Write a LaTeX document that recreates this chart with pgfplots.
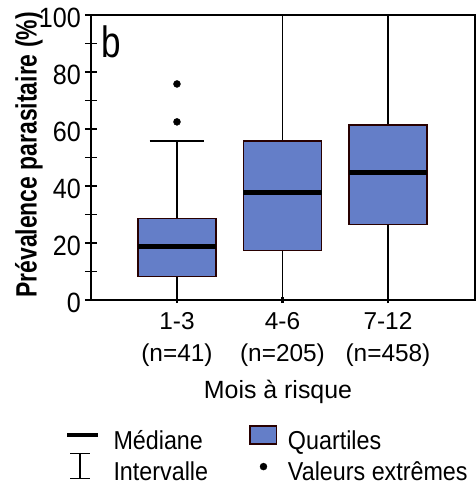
\documentclass[border=0pt]{standalone}
\usepackage{fontspec}
\setmainfont{Liberation Sans}
\newfontfamily\narrowfont{Liberation Sans}[FakeStretch=0.8]
\newfontfamily\tickfont{Liberation Sans}[FakeStretch=0.9]
\newfontfamily\legfont{Liberation Sans}[FakeStretch=0.9]
\newfontfamily\ylabfont{Liberation Sans Bold}[FakeStretch=0.78]
\usepackage{pgfplots}
\pgfplotsset{compat=1.18}
\usepgfplotslibrary{statistics}
\definecolor{boxfill}{RGB}{100,126,200}
\definecolor{boxedge}{RGB}{40,0,0}
\begin{document}
\begin{tikzpicture}
\begin{axis}[
  scale only axis, width=384bp, height=285bp,
  xmin=0.185, xmax=3.825, ymin=0, ymax=100,
  axis line style={line width=1.6bp, black},
  xtick={1,2,3},
  xticklabels={{1-3\\(n=41)},{4-6\\(n=205)},{7-12\\(n=458)}},
  xticklabel style={align=center, font=\fontsize{24.5}{31.7}\selectfont, yshift=-3bp},
  ytick={0,20,40,60,80,100},
  minor ytick={10,30,50,70,90},
  yticklabel style={font=\tickfont\fontsize{28}{32}\selectfont, inner sep=0pt, anchor=east, yshift=-3bp, xshift=-4bp},
  /pgf/number format/assume math mode=true,
  tick align=center,
  major tick length=12bp, minor tick length=12bp,
  ytick style={black, line width=1.5bp},
  minor y tick style={black, line width=1.5bp},
  xtick style={black, line width=2.5bp, /pgfplots/major tick length=6bp},
  xtick pos=bottom, ytick pos=left,
  xlabel={Mois à risque},
  xlabel style={font=\fontsize{25}{30}\selectfont, at={(axis description cs:0.487,-0.347)}, anchor=base},
  ylabel={Prévalence parasitaire (\%)},
  ylabel style={font=\ylabfont\fontsize{29.5}{32}\selectfont, inner sep=0pt, at={(axis description cs:-0.162,0.509)}, anchor=center},
  boxplot/draw direction=y,
  boxplot/every box/.style={draw=boxedge, fill=boxfill, line width=1.3bp},
  boxplot/every whisker/.style={black, line width=1.5bp},
  boxplot/every median/.style={black, line width=4.5bp},
  legend columns=2,
  legend cell align=left,
  legend style={draw=none, fill=none, inner sep=0pt, outer sep=0pt,
    at={(-0.0677,-0.4263)}, anchor=north west,
    font=\legfont\fontsize{26}{32}\selectfont,
    nodes={inner sep=0pt, text height=20bp, text depth=1bp},
    row sep=3bp,
    /tikz/every odd column/.append style={column sep=10.5bp},
    /tikz/every even column/.append style={column sep=41bp}},
]
\addplot[forget plot, boxplot prepared={draw position=1, median=18.8, upper quartile=28.6, lower quartile=8.2, upper whisker=55.8, lower whisker=0, box extend=0.74, whisker extend=0.52},
  mark=*, mark size=3.5bp, mark options={fill=black, draw=black}]
  table[row sep=\\, y index=0] {data\\ 75.8\\ 62.5\\};
\addplot[forget plot, boxplot prepared={draw position=2, median=37.7, upper quartile=55.8, lower quartile=17.4, upper whisker=100, lower whisker=0, box extend=0.74, whisker extend=0.52}]
  coordinates {};
\addplot[forget plot, boxplot prepared={draw position=3, median=44.8, upper quartile=61.4, lower quartile=26.4, upper whisker=100, lower whisker=0, box extend=0.74, whisker extend=0.52}]
  coordinates {};
\node[anchor=base west, inner sep=0pt, font=\narrowfont\fontsize{44}{48}\selectfont] at (rel axis cs:0.026,0.8526) {b};
\addlegendimage{legend image code/.code={\path[draw=none, fill=none] (0bp,-10.5bp) rectangle (36bp,18bp); \draw[black, line width=4bp] (0bp,5bp) -- (30.7bp,5bp);}}
\addlegendentry{Médiane}
\addlegendimage{legend image code/.code={\path[draw=none, fill=none] (0bp,-10.5bp) rectangle (28.4bp,18bp); \draw[draw=boxedge, fill=boxfill, line width=1.5bp] (0.75bp,-4.7bp) rectangle (27.65bp,13.3bp);}}
\addlegendentry{Quartiles}
\addlegendimage{legend image code/.code={\path[draw=none, fill=none] (0bp,-10.5bp) rectangle (36bp,18bp); \draw[black, line width=1.2bp] (13bp,-7.3bp) -- (13bp,17.2bp) (3bp,-7.3bp) -- (23bp,-7.3bp) (3bp,17.2bp) -- (23bp,17.2bp);}}
\addlegendentry{Intervalle}
\addlegendimage{legend image code/.code={\path[draw=none, fill=none] (0bp,-10.5bp) rectangle (28.4bp,18bp); \fill[black] (14.4bp,4.4bp) circle (3.5bp);}}
\addlegendentry{Valeurs extrêmes}
\end{axis}
\pgfresetboundingbox
\path (current axis.south west) ++(-91bp,-186bp) rectangle ++(476bp,486bp);
\end{tikzpicture}
\end{document}
